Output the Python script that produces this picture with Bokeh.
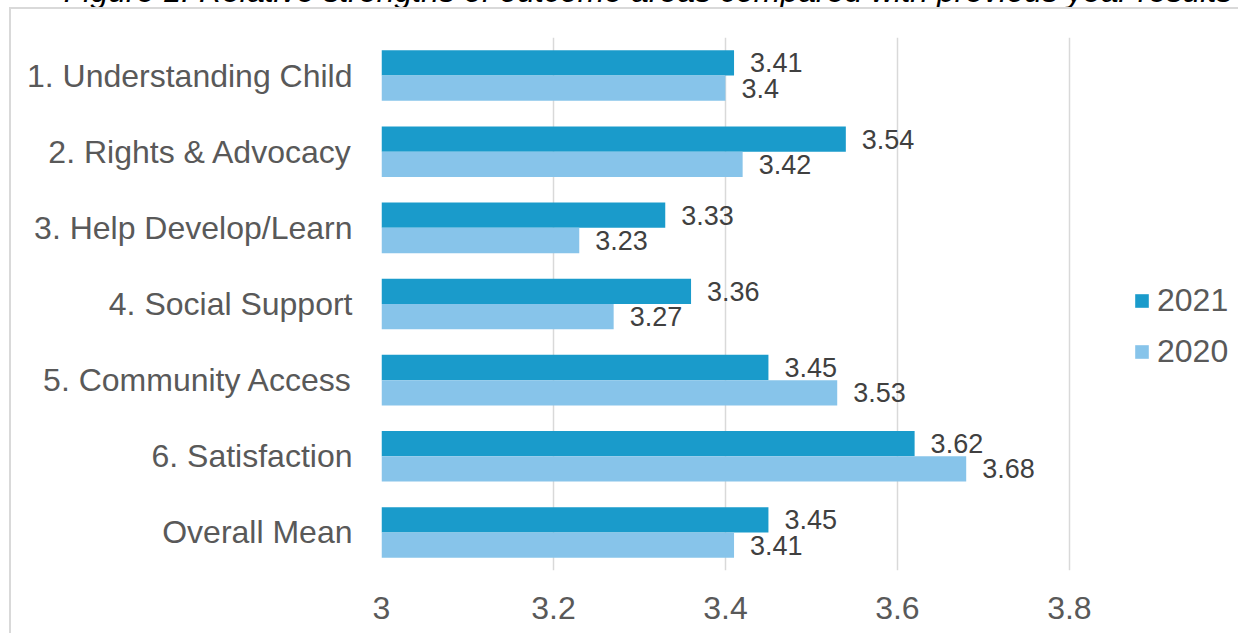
from bokeh.plotting import figure
from bokeh.models import ColumnDataSource, FactorRange, Range1d, LabelSet, Legend, LegendItem, Div
from bokeh.core.properties import value
from bokeh.transform import dodge
from bokeh.layouts import column
from bokeh.embed import file_html
from bokeh.resources import INLINE

title_text = "Figure 1: Relative strengths of outcome areas compared with previous year results"
categories = ["1. Understanding Child", "2. Rights & Advocacy", "3. Help Develop/Learn",
              "4. Social Support", "5. Community Access", "6. Satisfaction", "Overall Mean"]
values_2021 = [3.41, 3.54, 3.33, 3.36, 3.45, 3.62, 3.45]
values_2020 = [3.40, 3.42, 3.23, 3.27, 3.53, 3.68, 3.41]
series_names = ["2021", "2020"]
x_ticks = [3, 3.2, 3.4, 3.6, 3.8]
x_tick_labels = ["3", "3.2", "3.4", "3.6", "3.8"]

FONT = "Liberation Sans"
C2021 = "#1A9BCB"
C2020 = "#87C4EA"

src = ColumnDataSource(dict(
    cat=categories,
    v2021=values_2021,
    v2020=values_2020,
    l2021=[f"{v:g}" for v in values_2021],
    l2020=[f"{v:g}" for v in values_2020],
))

# frame extends to the right edge so the legend can sit inside it;
# only the 3..3.8 ticks get gridlines, as in the reference
p = figure(width=1229, height=626, output_backend="svg", toolbar_location=None,
           y_range=FactorRange(factors=categories[::-1], range_padding=0),
           x_range=Range1d(3, 3.999),
           min_border_left=370, min_border_right=0, min_border_top=28, min_border_bottom=65,
           margin=(0, 0, 0, 9))
p.outline_line_color = None
p.styles = {"border-top": "2px solid #d9d9d9", "border-left": "2px solid #d9d9d9"}

r1 = p.hbar(y=dodge("cat", 0.166, range=p.y_range), left=3, right="v2021", height=0.332,
            source=src, fill_color=C2021, line_color=None)
r2 = p.hbar(y=dodge("cat", -0.166, range=p.y_range), left=3, right="v2020", height=0.332,
            source=src, fill_color=C2020, line_color=None)

for col, lab, off in (("v2021", "l2021", 0.166), ("v2020", "l2020", -0.166)):
    ls = LabelSet(x=col, y=dodge("cat", off, range=p.y_range), text=lab, source=src,
                  x_offset=16, text_baseline="middle", text_align="left",
                  text_font=value(FONT), text_font_size=value("27px"), text_color="#404040")
    p.add_layout(ls)

p.xaxis.ticker = x_ticks
p.xaxis.major_label_overrides = {t: s for t, s in zip(x_ticks, x_tick_labels)}
for ax in (p.xaxis, p.yaxis):
    ax.axis_line_color = None
    ax.major_tick_line_color = None
    ax.minor_tick_line_color = None
    ax.major_tick_out = 0
    ax.major_tick_in = 0
    ax.major_label_text_font = FONT
    ax.major_label_text_font_size = "32px"
    ax.major_label_text_color = "#595959"
p.xaxis.major_label_standoff = 26
p.yaxis.major_label_standoff = 29

p.xgrid.grid_line_color = "#d9d9d9"
p.xgrid.grid_line_width = 1.5
p.ygrid.grid_line_color = None

legend = Legend(items=[LegendItem(label=series_names[0], renderers=[r1]),
                       LegendItem(label=series_names[1], renderers=[r2])],
                location=(752, 200), orientation="vertical",
                glyph_width=17, glyph_height=17, label_height=37, spacing=14,
                label_standoff=7, padding=0, margin=0,
                border_line_color=None, background_fill_alpha=0,
                label_text_font=FONT, label_text_font_size="32px", label_text_color="#595959")
p.add_layout(legend, "center")

title = Div(text=f'<span style="position:relative;left:28px">{title_text}</span>',
            width=1240, height=32, margin=(-25, 0, 0, 0),
            styles={"font-style": "italic", "font-size": "32px", "font-family": FONT,
                    "color": "#000000", "line-height": "32px", "text-align": "center",
                    "white-space": "nowrap"})

layout = column(title, p, spacing=0)
open("out.html", "w").write(file_html(layout, INLINE))
